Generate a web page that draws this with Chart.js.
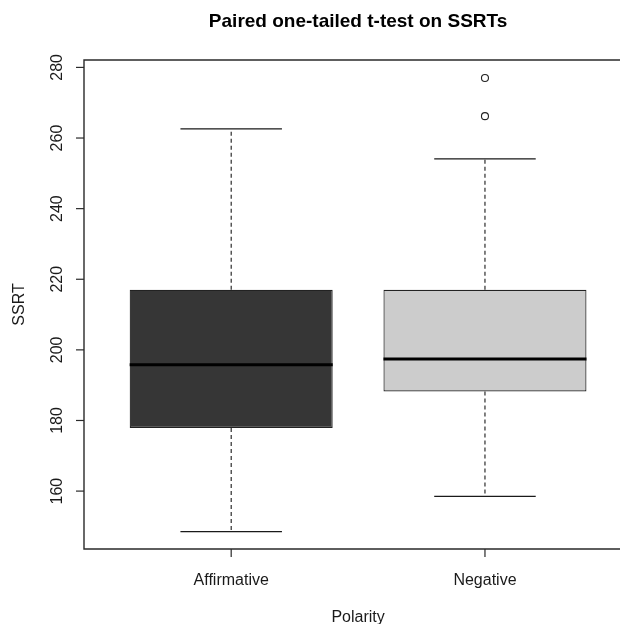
<!DOCTYPE html>
<html>
<head>
<meta charset="utf-8">
<script src="https://cdn.jsdelivr.net/npm/chart.js@4/dist/chart.umd.min.js"></script>
<style>
  html, body { margin: 0; padding: 0; background: #fff; overflow: hidden; }
  canvas { display: block; }
</style>
</head>
<body>
<canvas id="chart" width="620" height="624"></canvas>
<script>
// values
const categories = ['Affirmative', 'Negative'];
const lowerWhisker = [148.5, 158.5];
const q1 = [177.9, 188.2];
const median = [195.8, 197.4];
const q3 = [217.0, 217.0];
const upperWhisker = [262.6, 254.1];
const outliers = [[], [277.0, 266.2]];
const boxColors = ['#363636', '#cccccc'];
const yTicks = [160, 180, 200, 220, 240, 260, 280];

const FONT = '"Liberation Sans", Arial, sans-serif';
const INK = '#1a1a1a';

const boxData = categories.map((c, i) => ({ x: i + 1, y: [q1[i], q3[i]] }));
const outlierData = [];
outliers.forEach((list, i) => list.forEach(v => outlierData.push({ x: i + 1, y: v })));

// whiskers, medians, frame, axes and labels drawn with the chart's scales
const boxplotExtras = {
    id: 'boxplotExtras',
    afterDatasetsDraw(chart) {
        const ctx = chart.ctx;
        const xs = chart.scales.x, ys = chart.scales.y;
        const area = chart.chartArea;
        const meta = chart.getDatasetMeta(0);

        ctx.save();
        categories.forEach((c, i) => {
            const cx = xs.getPixelForValue(i + 1);
            const capL = xs.getPixelForValue(i + 1 - 0.2);
            const capR = xs.getPixelForValue(i + 1 + 0.2);

            // dashed whiskers
            ctx.strokeStyle = INK;
            ctx.lineWidth = 1.1;
            ctx.setLineDash([4, 3]);
            ctx.beginPath();
            ctx.moveTo(cx, ys.getPixelForValue(q3[i]));
            ctx.lineTo(cx, ys.getPixelForValue(upperWhisker[i]));
            ctx.moveTo(cx, ys.getPixelForValue(q1[i]));
            ctx.lineTo(cx, ys.getPixelForValue(lowerWhisker[i]));
            ctx.stroke();

            // staples
            ctx.setLineDash([]);
            ctx.lineWidth = 1.2;
            ctx.beginPath();
            ctx.moveTo(capL, ys.getPixelForValue(upperWhisker[i]));
            ctx.lineTo(capR, ys.getPixelForValue(upperWhisker[i]));
            ctx.moveTo(capL, ys.getPixelForValue(lowerWhisker[i]));
            ctx.lineTo(capR, ys.getPixelForValue(lowerWhisker[i]));
            ctx.stroke();

            // median
            const bar = meta.data[i];
            const half = bar.width / 2;
            ctx.strokeStyle = '#000';
            ctx.lineWidth = 3;
            ctx.beginPath();
            ctx.moveTo(bar.x - half, ys.getPixelForValue(median[i]));
            ctx.lineTo(bar.x + half, ys.getPixelForValue(median[i]));
            ctx.stroke();
        });

        // frame: top, left, bottom (right side runs off the picture)
        ctx.strokeStyle = '#2a2a2a';
        ctx.lineWidth = 1.4;
        ctx.beginPath();
        ctx.moveTo(chart.width + 5, area.top);
        ctx.lineTo(area.left, area.top);
        ctx.lineTo(area.left, area.bottom);
        ctx.lineTo(chart.width + 5, area.bottom);
        ctx.stroke();

        // y ticks and rotated labels
        ctx.lineWidth = 1.2;
        ctx.fillStyle = INK;
        ctx.font = '16px ' + FONT;
        yTicks.forEach(v => {
            const y = ys.getPixelForValue(v);
            ctx.beginPath();
            ctx.moveTo(area.left - 8, y);
            ctx.lineTo(area.left, y);
            ctx.stroke();
            ctx.save();
            ctx.translate(62, y);
            ctx.rotate(-Math.PI / 2);
            ctx.textAlign = 'center';
            ctx.textBaseline = 'alphabetic';
            ctx.fillText(String(v), 0, 0);
            ctx.restore();
        });

        // x ticks and labels
        categories.forEach((c, i) => {
            const x = xs.getPixelForValue(i + 1);
            ctx.beginPath();
            ctx.moveTo(x, area.bottom);
            ctx.lineTo(x, area.bottom + 8);
            ctx.stroke();
            ctx.textAlign = 'center';
            ctx.textBaseline = 'alphabetic';
            ctx.fillText(c, x, 585);
        });

        // axis titles
        const midX = xs.getPixelForValue(1.5);
        ctx.fillText('Polarity', midX, 622);
        ctx.save();
        ctx.translate(24, (area.top + area.bottom) / 2);
        ctx.rotate(-Math.PI / 2);
        ctx.fillText('SSRT', 0, 0);
        ctx.restore();

        // main title
        ctx.font = 'bold 19px ' + FONT;
        ctx.fillStyle = '#000';
        ctx.fillText('Paired one-tailed t-test on SSRTs', midX, 27);
        ctx.restore();
    }
};

new Chart(document.getElementById('chart').getContext('2d'), {
    type: 'bar',
    data: {
        datasets: [{
            label: 'Box',
            data: boxData,
            backgroundColor: boxColors,
            borderColor: '#222',
            borderWidth: 1.2,
            borderSkipped: false,
            barPercentage: 0.8,
            categoryPercentage: 1
        }, {
            type: 'scatter',
            label: 'Outliers',
            data: outlierData,
            pointRadius: 3.5,
            pointBackgroundColor: '#fff',
            pointBorderColor: '#222',
            pointBorderWidth: 1.1
        }]
    },
    options: {
        responsive: false,
        animation: false,
        layout: { padding: { left: 84, top: 60, right: 0, bottom: 75 } },
        scales: {
            x: {
                type: 'linear',
                display: false,
                offset: false,
                min: 0.42,
                max: 2.512,
                ticks: { stepSize: 1, includeBounds: false }
            },
            y: {
                type: 'linear',
                display: false,
                min: 143.6,
                max: 282.1
            }
        },
        plugins: {
            legend: { display: false },
            tooltip: { enabled: false }
        }
    },
    plugins: [boxplotExtras]
});
</script>
</body>
</html>
